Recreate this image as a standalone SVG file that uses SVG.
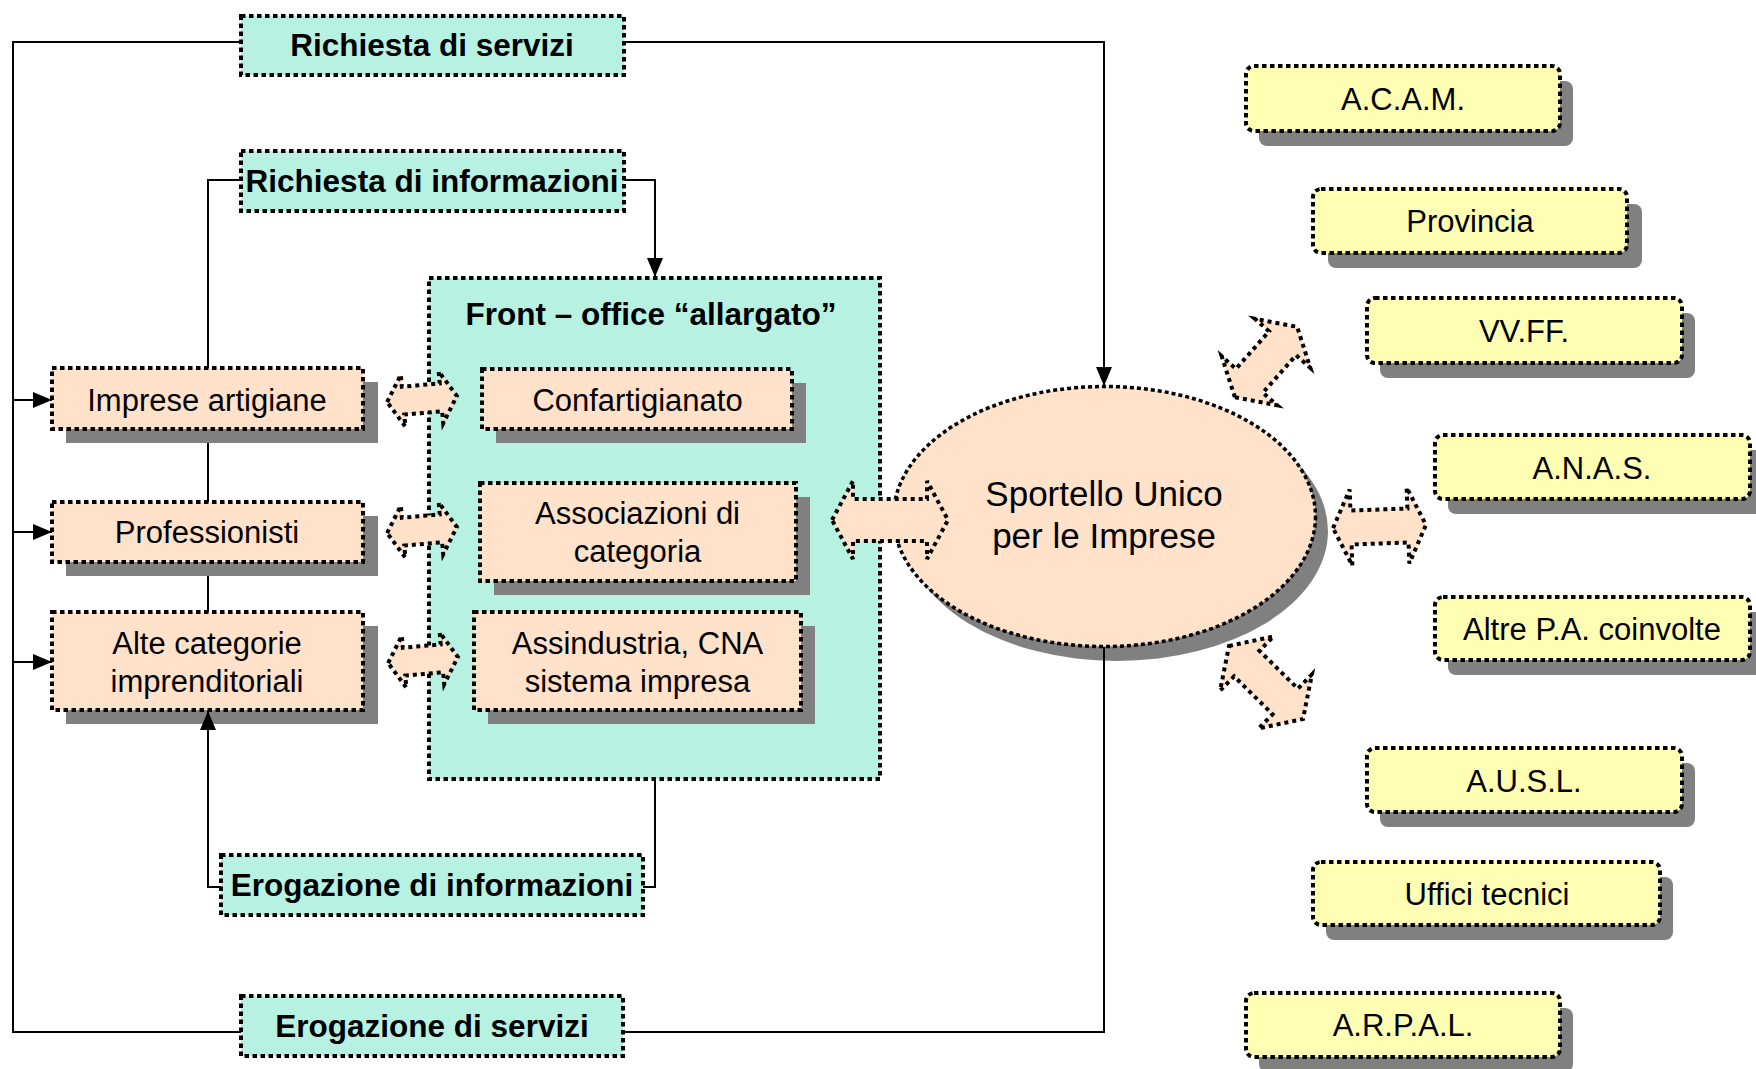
<svg xmlns="http://www.w3.org/2000/svg" xmlns:xlink="http://www.w3.org/1999/xlink" width="1756" height="1069" viewBox="0 0 1756 1069">
<style>
.teal{fill:#b6f1e2;stroke:#000;stroke-width:4;stroke-dasharray:4.5 3.5}
.peach{fill:#ffe2c9;stroke:#000;stroke-width:4;stroke-dasharray:4.5 3.5}
.yellow{fill:#ffffb3;stroke:#000;stroke-width:4;stroke-dasharray:4.5 3.5}
.ell{fill:#ffe2c9;stroke:#000;stroke-width:3.5;stroke-dasharray:4 3}
.shadow{fill:#808080}
.t{font-family:"Liberation Sans",Arial,sans-serif;font-size:31px;text-anchor:middle;fill:#000}
.b{font-weight:bold;font-size:31.5px}
.big{font-size:35px}
.line{fill:none;stroke:#000;stroke-width:2}
.barrow{fill:#ffe2c9;stroke:#000;stroke-width:4;stroke-dasharray:4 4;stroke-linejoin:miter}
</style>
<defs>
<marker id="ah" markerUnits="userSpaceOnUse" markerWidth="20" markerHeight="18" refX="19" refY="8" orient="auto">
<path d="M0,0 L19,8 L0,16 z" fill="#000"/>
</marker>
<polygon id="smallArrow" class="barrow" points="-35,0 -19,-26 -19,-14 19,-14 19,-26 35,0 19,26 19,14 -19,14 -19,26"/>
</defs>
<rect width="1756" height="1069" fill="#fff"/>

<g id="richiesta-servizi">
<rect class="teal" x="241" y="16" width="383" height="59"/>
<text class="t b" x="432" y="56">Richiesta di servizi</text>
</g>
<g id="richiesta-informazioni">
<rect class="teal" x="241" y="151" width="383" height="60"/>
<text class="t b" x="432" y="192">Richiesta di informazioni</text>
</g>
<g id="front-office">
<rect class="teal" x="429" y="278" width="451" height="501"/>
<text class="t b" x="651" y="325">Front – office “allargato”</text>
</g>
<g id="confartigianato">
<rect class="shadow" x="496" y="383" width="310" height="60"/>
<rect class="peach" x="482" y="369" width="310" height="60"/>
<text class="t" x="637.5" y="411">Confartigianato</text>
</g>
<g id="associazioni">
<rect class="shadow" x="494" y="497" width="316" height="98"/>
<rect class="peach" x="480" y="483" width="316" height="98"/>
<text class="t" x="637.5" y="524">Associazioni di</text>
<text class="t" x="637.5" y="562">categoria</text>
</g>
<g id="assindustria">
<rect class="shadow" x="488" y="626" width="327" height="98"/>
<rect class="peach" x="474" y="612" width="327" height="98"/>
<text class="t" x="637.5" y="654">Assindustria, CNA</text>
<text class="t" x="637.5" y="692">sistema impresa</text>
</g>
<g id="imprese-artigiane">
<rect class="shadow" x="66" y="382" width="312" height="61"/>
<rect class="peach" x="52" y="368" width="311" height="61"/>
<text class="t" x="207" y="411">Imprese artigiane</text>
</g>
<g id="professionisti">
<rect class="shadow" x="66" y="516" width="312" height="60"/>
<rect class="peach" x="52" y="502" width="311" height="60"/>
<text class="t" x="207" y="543">Professionisti</text>
</g>
<g id="alte-categorie">
<rect class="shadow" x="66" y="626" width="312" height="98"/>
<rect class="peach" x="52" y="612" width="311" height="98"/>
<text class="t" x="207" y="654">Alte categorie</text>
<text class="t" x="207" y="692">imprenditoriali</text>
</g>
<g id="erogazione-informazioni">
<rect class="teal" x="221" y="855" width="422" height="60"/>
<text class="t b" x="432" y="896">Erogazione di informazioni</text>
</g>
<g id="erogazione-servizi">
<rect class="teal" x="241" y="996" width="382" height="60"/>
<text class="t b" x="432" y="1037">Erogazione di servizi</text>
</g>
<g id="sportello-unico">
<ellipse class="shadow" cx="1117" cy="531" rx="211" ry="130"/>
<ellipse class="ell" cx="1104.5" cy="516.5" rx="211" ry="130"/>
<text class="t big" x="1104" y="506">Sportello Unico</text>
<text class="t big" x="1104" y="548">per le Imprese</text>
</g>
<g id="acam">
<rect class="shadow" x="1259" y="81" width="314" height="65" rx="8"/>
<rect class="yellow" x="1246" y="66" width="314" height="65" rx="8"/>
<text class="t" x="1403" y="110">A.C.A.M.</text>
</g>
<g id="provincia">
<rect class="shadow" x="1328" y="204" width="314" height="64" rx="8"/>
<rect class="yellow" x="1313" y="189" width="314" height="64" rx="8"/>
<text class="t" x="1470" y="232">Provincia</text>
</g>
<g id="vvff">
<rect class="shadow" x="1380" y="313" width="315" height="65" rx="8"/>
<rect class="yellow" x="1367" y="298" width="315" height="65" rx="8"/>
<text class="t" x="1524" y="342">VV.FF.</text>
</g>
<g id="anas">
<rect class="shadow" x="1448" y="450" width="315" height="64" rx="8"/>
<rect class="yellow" x="1435" y="435" width="315" height="64" rx="8"/>
<text class="t" x="1592" y="479">A.N.A.S.</text>
</g>
<g id="altre-pa">
<rect class="shadow" x="1448" y="612" width="315" height="63" rx="8"/>
<rect class="yellow" x="1435" y="597" width="315" height="63" rx="8"/>
<text class="t" x="1592" y="640">Altre P.A. coinvolte</text>
</g>
<g id="ausl">
<rect class="shadow" x="1380" y="763" width="315" height="64" rx="8"/>
<rect class="yellow" x="1367" y="748" width="315" height="64" rx="8"/>
<text class="t" x="1524" y="792">A.U.S.L.</text>
</g>
<g id="uffici-tecnici">
<rect class="shadow" x="1326" y="877" width="347" height="63" rx="8"/>
<rect class="yellow" x="1313" y="862" width="347" height="63" rx="8"/>
<text class="t" x="1487" y="905">Uffici tecnici</text>
</g>
<g id="arpal">
<rect class="shadow" x="1259" y="1008" width="314" height="64" rx="8"/>
<rect class="yellow" x="1246" y="993" width="314" height="64" rx="8"/>
<text class="t" x="1403" y="1036">A.R.P.A.L.</text>
</g>

<g id="connectors">
<polyline class="line" points="241,42 13,42 13,1032 241,1032"/>
<polyline class="line" points="624,42 1104,42 1104,386" marker-end="url(#ah)"/>
<polyline class="line" points="1104,647 1104,1032 623,1032"/>
<line class="line" x1="13" y1="400" x2="52" y2="400" marker-end="url(#ah)"/>
<line class="line" x1="13" y1="532" x2="52" y2="532" marker-end="url(#ah)"/>
<line class="line" x1="13" y1="662" x2="52" y2="662" marker-end="url(#ah)"/>
<polyline class="line" points="208,368 208,180 241,180"/>
<polyline class="line" points="624,180 655,180 655,277" marker-end="url(#ah)"/>
<line class="line" x1="208" y1="443" x2="208" y2="502"/>
<line class="line" x1="208" y1="576" x2="208" y2="612"/>
<polyline class="line" points="655,779 655,887 643,887"/>
<polyline class="line" points="221,887 208,887 208,711" marker-end="url(#ah)"/>
<use xlink:href="#smallArrow" href="#smallArrow" transform="translate(422,399) rotate(-5)"/>
<use xlink:href="#smallArrow" href="#smallArrow" transform="translate(422,530) rotate(-5)"/>
<use xlink:href="#smallArrow" href="#smallArrow" transform="translate(423,660) rotate(-5)"/>
<polygon class="barrow" transform="translate(890,520)" points="-58,0 -37,-39 -37,-21 37,-21 37,-39 58,0 37,39 37,21 -37,21 -37,39"/>
<polygon class="barrow" transform="translate(1379.5,526.5) rotate(-2)" points="-46.5,0 -28.5,-38 -28.5,-17 28.5,-17 28.5,-38 46.5,0 28.5,38 28.5,17 -28.5,17 -28.5,38"/>
<polygon class="barrow" transform="translate(1266,362) rotate(-48.5)" points="-47,0 -25,-37 -25,-18 25,-18 25,-37 47,0 25,37 25,18 -25,18 -25,37"/>
<polygon class="barrow" transform="translate(1266,682.5) rotate(44.6)" points="-52,0 -27,-38 -27,-18 27,-18 27,-38 52,0 27,38 27,18 -27,18 -27,38"/>
</g>
</svg>
